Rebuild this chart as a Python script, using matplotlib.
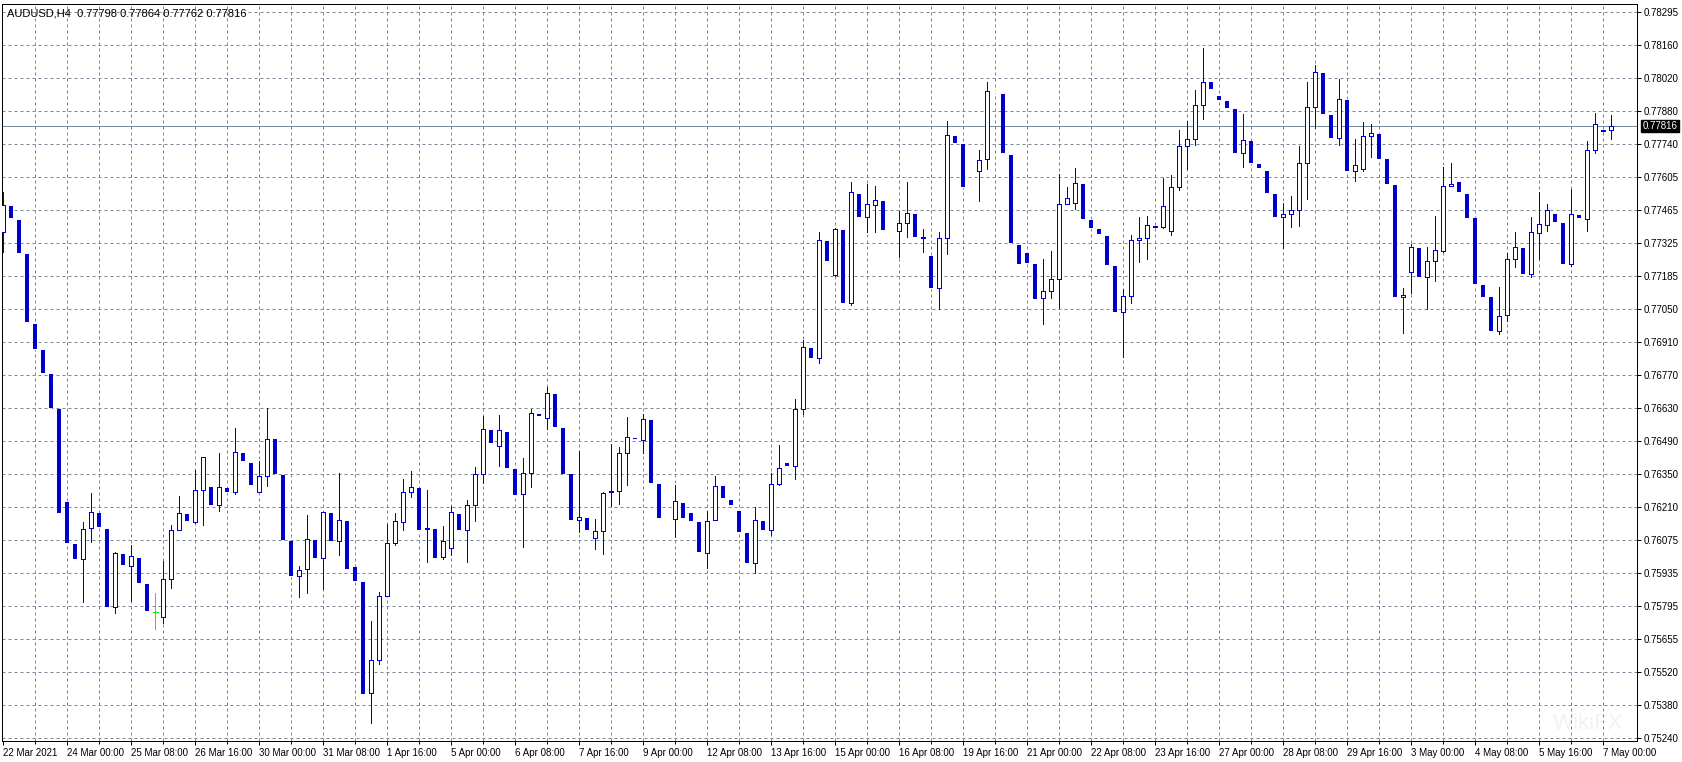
import matplotlib
matplotlib.use("Agg")
import matplotlib.pyplot as plt
import numpy as np

# AUDUSD H4 bars, 22 Mar 16:00 .. 7 May 04:00
opens = [0.77371, 0.77480, 0.77421, 0.77278, 0.76984, 0.76874, 0.76773, 0.76626, 0.76235, 0.76058,
         0.75995, 0.76125, 0.76188, 0.76121, 0.75793, 0.76016, 0.75965, 0.75999, 0.75890, 0.75772,
         0.75751, 0.75911, 0.76117, 0.76184, 0.76150, 0.76285, 0.76298, 0.76222, 0.76293, 0.76277,
         0.76441, 0.76399, 0.76277, 0.76344, 0.76500, 0.76348, 0.76070, 0.75923, 0.75953, 0.76075,
         0.75999, 0.76188, 0.76070, 0.76155, 0.75961, 0.75898, 0.75431, 0.75570, 0.75839, 0.76062,
         0.76150, 0.76277, 0.76293, 0.76121, 0.76121, 0.76003, 0.76041, 0.76184, 0.76117, 0.76222,
         0.76352, 0.76538, 0.76470, 0.76529, 0.76373, 0.76268, 0.76357, 0.76605, 0.76588, 0.76689,
         0.76546, 0.76352, 0.76159, 0.76167, 0.76083, 0.76113, 0.76277, 0.76281, 0.76441, 0.76506,
         0.76495, 0.76580, 0.76310, 0.76166, 0.76163, 0.76230, 0.76188, 0.76150, 0.76020, 0.76159,
         0.76302, 0.76243, 0.76197, 0.76104, 0.75978, 0.76155, 0.76117, 0.76310, 0.76399, 0.76386,
         0.76626, 0.76883, 0.76841, 0.77333, 0.77190, 0.77379, 0.77072, 0.77531, 0.77434, 0.77484,
         0.77501, 0.77378, 0.77375, 0.77409, 0.77446, 0.77345, 0.77270, 0.77135, 0.77345, 0.77775,
         0.77741, 0.77559, 0.77627, 0.77678, 0.77963, 0.77951, 0.77695, 0.77316, 0.77282, 0.77236,
         0.77093, 0.77122, 0.77173, 0.77489, 0.77493, 0.77573, 0.77421, 0.77383, 0.77354, 0.77228,
         0.77034, 0.77101, 0.77337, 0.77345, 0.77393, 0.77392, 0.77375, 0.77560, 0.77733, 0.77762,
         0.77905, 0.78002, 0.77943, 0.77922, 0.77888, 0.77703, 0.77754, 0.77657, 0.77627, 0.77531,
         0.77434, 0.77446, 0.77463, 0.77661, 0.77897, 0.78040, 0.77863, 0.77766, 0.77926, 0.77627,
         0.77636, 0.77775, 0.77783, 0.77678, 0.77569, 0.77097, 0.77202, 0.77303, 0.77181, 0.77249,
         0.77291, 0.77564, 0.77581, 0.77531, 0.77430, 0.77148, 0.77097, 0.76954, 0.77021, 0.77257,
         0.77303, 0.77194, 0.77367, 0.77400, 0.77446, 0.77409, 0.77236, 0.77442, 0.77425, 0.77716,
         0.77797, 0.77798]
highs = [0.77539, 0.77480, 0.77421, 0.77278, 0.76984, 0.76874, 0.76773, 0.76626, 0.76235, 0.76058,
         0.76150, 0.76272, 0.76188, 0.76121, 0.76024, 0.76016, 0.76054, 0.75999, 0.75890, 0.75852,
         0.75986, 0.76138, 0.76260, 0.76184, 0.76369, 0.76424, 0.76298, 0.76441, 0.76293, 0.76546,
         0.76441, 0.76399, 0.76407, 0.76630, 0.76500, 0.76348, 0.76070, 0.75965, 0.76180, 0.76075,
         0.76192, 0.76188, 0.76357, 0.76155, 0.75961, 0.75898, 0.75734, 0.75856, 0.76142, 0.76188,
         0.76331, 0.76365, 0.76293, 0.76285, 0.76121, 0.76134, 0.76218, 0.76184, 0.76243, 0.76382,
         0.76596, 0.76538, 0.76601, 0.76529, 0.76373, 0.76420, 0.76626, 0.76605, 0.76718, 0.76689,
         0.76546, 0.76352, 0.76449, 0.76167, 0.76163, 0.76277, 0.76479, 0.76466, 0.76592, 0.76506,
         0.76605, 0.76580, 0.76310, 0.76166, 0.76306, 0.76230, 0.76188, 0.76150, 0.76197, 0.76344,
         0.76302, 0.76243, 0.76197, 0.76104, 0.76214, 0.76155, 0.76357, 0.76474, 0.76399, 0.76668,
         0.76916, 0.76883, 0.77371, 0.77333, 0.77388, 0.77379, 0.77581, 0.77531, 0.77573, 0.77564,
         0.77501, 0.77378, 0.77459, 0.77581, 0.77446, 0.77383, 0.77270, 0.77371, 0.77838, 0.77775,
         0.77741, 0.77559, 0.77716, 0.78002, 0.77963, 0.77951, 0.77695, 0.77316, 0.77282, 0.77236,
         0.77257, 0.77291, 0.77615, 0.77560, 0.77640, 0.77573, 0.77421, 0.77383, 0.77354, 0.77228,
         0.77131, 0.77358, 0.77434, 0.77438, 0.77396, 0.77598, 0.77611, 0.77800, 0.77838, 0.77968,
         0.78145, 0.78002, 0.77943, 0.77922, 0.77888, 0.77867, 0.77754, 0.77657, 0.77627, 0.77531,
         0.77493, 0.77522, 0.77733, 0.78002, 0.78073, 0.78040, 0.77863, 0.78015, 0.77926, 0.77762,
         0.77834, 0.77825, 0.77783, 0.77678, 0.77569, 0.77135, 0.77320, 0.77303, 0.77308, 0.77438,
         0.77644, 0.77661, 0.77581, 0.77531, 0.77430, 0.77148, 0.77097, 0.77139, 0.77282, 0.77371,
         0.77303, 0.77434, 0.77539, 0.77489, 0.77446, 0.77409, 0.77552, 0.77442, 0.77754, 0.77871,
         0.77800, 0.77864]
lows = [0.77287, 0.77430, 0.77282, 0.76992, 0.76878, 0.76777, 0.76630, 0.76188, 0.76062, 0.75995,
        0.75814, 0.76066, 0.76129, 0.75793, 0.75767, 0.75969, 0.75818, 0.75894, 0.75776, 0.75700,
        0.75725, 0.75873, 0.76117, 0.76155, 0.76146, 0.76138, 0.76222, 0.76197, 0.76277, 0.76268,
        0.76407, 0.76306, 0.76277, 0.76302, 0.76352, 0.76075, 0.75923, 0.75835, 0.75852, 0.75999,
        0.75868, 0.76070, 0.76012, 0.75953, 0.75902, 0.75427, 0.75305, 0.75553, 0.75839, 0.76054,
        0.76117, 0.76256, 0.76117, 0.75982, 0.75999, 0.75995, 0.76012, 0.76117, 0.75982, 0.76155,
        0.76315, 0.76483, 0.76386, 0.76378, 0.76264, 0.76045, 0.76298, 0.76596, 0.76542, 0.76550,
        0.76352, 0.76159, 0.76108, 0.76117, 0.76037, 0.76016, 0.76218, 0.76226, 0.76306, 0.76498,
        0.76441, 0.76315, 0.76167, 0.76164, 0.76087, 0.76167, 0.76155, 0.76024, 0.75957, 0.76159,
        0.76251, 0.76222, 0.76108, 0.75978, 0.75936, 0.76117, 0.76096, 0.76306, 0.76386, 0.76331,
        0.76605, 0.76841, 0.76819, 0.77249, 0.77186, 0.77072, 0.77064, 0.77434, 0.77371, 0.77371,
        0.77379, 0.77376, 0.77266, 0.77350, 0.77350, 0.77287, 0.77135, 0.77047, 0.77278, 0.77745,
        0.77560, 0.77557, 0.77501, 0.77636, 0.77961, 0.77703, 0.77324, 0.77236, 0.77240, 0.77089,
        0.76984, 0.77093, 0.77051, 0.77489, 0.77468, 0.77425, 0.77388, 0.77362, 0.77232, 0.77034,
        0.76845, 0.77072, 0.77244, 0.77257, 0.77392, 0.77388, 0.77358, 0.77547, 0.77636, 0.77737,
        0.77846, 0.77972, 0.77926, 0.77893, 0.77703, 0.77644, 0.77661, 0.77640, 0.77535, 0.77434,
        0.77303, 0.77392, 0.77396, 0.77510, 0.77808, 0.77867, 0.77766, 0.77737, 0.77627, 0.77585,
        0.77627, 0.77686, 0.77678, 0.77573, 0.77097, 0.76946, 0.77114, 0.77181, 0.77047, 0.77165,
        0.77287, 0.77564, 0.77539, 0.77430, 0.77152, 0.77097, 0.76954, 0.76942, 0.76996, 0.77223,
        0.77194, 0.77181, 0.77257, 0.77375, 0.77413, 0.77236, 0.77228, 0.77430, 0.77375, 0.77703,
        0.77796, 0.77762]
closes = [0.77484, 0.77430, 0.77282, 0.76992, 0.76878, 0.76777, 0.76630, 0.76188, 0.76062, 0.75995,
          0.76121, 0.76192, 0.76129, 0.75793, 0.76020, 0.75969, 0.76007, 0.75894, 0.75776, 0.75772,
          0.75911, 0.76117, 0.76188, 0.76155, 0.76285, 0.76424, 0.76222, 0.76298, 0.76277, 0.76445,
          0.76407, 0.76306, 0.76344, 0.76500, 0.76352, 0.76075, 0.75923, 0.75948, 0.76079, 0.75999,
          0.76192, 0.76070, 0.76159, 0.75953, 0.75902, 0.75427, 0.75570, 0.75839, 0.76062, 0.76155,
          0.76277, 0.76298, 0.76117, 0.76125, 0.75999, 0.76070, 0.76192, 0.76117, 0.76222, 0.76352,
          0.76542, 0.76483, 0.76538, 0.76378, 0.76264, 0.76357, 0.76609, 0.76596, 0.76693, 0.76550,
          0.76352, 0.76159, 0.76171, 0.76117, 0.76113, 0.76272, 0.76281, 0.76441, 0.76508, 0.76498,
          0.76584, 0.76315, 0.76167, 0.76164, 0.76239, 0.76167, 0.76155, 0.76024, 0.76155, 0.76302,
          0.76251, 0.76222, 0.76108, 0.75978, 0.76159, 0.76117, 0.76310, 0.76378, 0.76386, 0.76626,
          0.76887, 0.76841, 0.77337, 0.77249, 0.77383, 0.77072, 0.77539, 0.77434, 0.77489, 0.77505,
          0.77379, 0.77376, 0.77409, 0.77451, 0.77350, 0.77350, 0.77135, 0.77345, 0.77779, 0.77745,
          0.77560, 0.77557, 0.77674, 0.77964, 0.77961, 0.77703, 0.77324, 0.77236, 0.77240, 0.77089,
          0.77122, 0.77173, 0.77489, 0.77514, 0.77577, 0.77425, 0.77388, 0.77362, 0.77232, 0.77034,
          0.77101, 0.77337, 0.77345, 0.77400, 0.77395, 0.77480, 0.77560, 0.77733, 0.77762, 0.77905,
          0.78002, 0.77972, 0.77926, 0.77893, 0.77703, 0.77758, 0.77661, 0.77640, 0.77535, 0.77434,
          0.77446, 0.77463, 0.77661, 0.77897, 0.78044, 0.77867, 0.77766, 0.77930, 0.77627, 0.77653,
          0.77775, 0.77787, 0.77678, 0.77573, 0.77097, 0.77106, 0.77308, 0.77181, 0.77249, 0.77295,
          0.77564, 0.77573, 0.77539, 0.77430, 0.77152, 0.77097, 0.76954, 0.77017, 0.77257, 0.77308,
          0.77194, 0.77371, 0.77404, 0.77463, 0.77413, 0.77236, 0.77446, 0.77430, 0.77716, 0.77825,
          0.77799, 0.77816]

# one time label every 8 bars
time_labels = ["22 Mar 2021", "24 Mar 00:00", "25 Mar 08:00", "26 Mar 16:00", "30 Mar 00:00",
               "31 Mar 08:00", "1 Apr 16:00", "5 Apr 00:00", "6 Apr 08:00", "7 Apr 16:00",
               "9 Apr 00:00", "12 Apr 08:00", "13 Apr 16:00", "15 Apr 00:00", "16 Apr 08:00",
               "19 Apr 16:00", "21 Apr 00:00", "22 Apr 08:00", "23 Apr 16:00", "27 Apr 00:00",
               "28 Apr 08:00", "29 Apr 16:00", "3 May 00:00", "4 May 08:00", "5 May 16:00",
               "7 May 00:00"]
price_labels = ["0.78295", "0.78160", "0.78020", "0.77880", "0.77740", "0.77605", "0.77465",
                "0.77325", "0.77185", "0.77050", "0.76910", "0.76770", "0.76630", "0.76490",
                "0.76350", "0.76210", "0.76075", "0.75935", "0.75795", "0.75655", "0.75520",
                "0.75380", "0.75240"]

BLUE = "#0000cd"
GRID = "#778899"
PX = 0.72  # one pixel in points at dpi 100

fig = plt.figure(figsize=(16.83, 7.62), dpi=100)
ax = fig.add_axes([2 / 1683, 21 / 762, 1635 / 1683, 737 / 762])
ax.set_facecolor("white")

n = len(opens)
x = np.arange(n)
o = np.array(opens); h = np.array(highs); l = np.array(lows); c = np.array(closes)

# price scale: labels are rounded values of an even grid
top = float(price_labels[0])
step = (float(price_labels[0]) - float(price_labels[-1])) / (len(price_labels) - 1)
price_ticks = [top - i * step for i in range(len(price_labels))]
ax.set_ylim(0.75229, 0.78330)
ax.set_xlim(-0.16, 204.2)

# dashed grid
for p in price_ticks:
    ax.axhline(p, color=GRID, lw=PX, dashes=(3, 3), zorder=0.5)
for k in range(4, n, 4):
    ax.axvline(k, color=GRID, lw=PX, dashes=(3, 3), zorder=0.5)

# last price line
ax.axhline(closes[-1], color=GRID, lw=PX, zorder=0.6)

one_px = step / 33.0
bull = c > o
bear = c < o
doji = c == o

# bull candles: blue wick, white body with blue outline
ax.vlines(x[bull], l[bull], h[bull], color=BLUE, lw=PX, zorder=2, antialiased=False)
ax.bar(x[bull], c[bull] - o[bull], bottom=o[bull], width=0.5, facecolor="white",
       edgecolor=BLUE, linewidth=PX, zorder=3, antialiased=False)

# bear candles: MT4 draws the down outline/wick in white, only the fill shows
ax.vlines(x[bear], l[bear], h[bear], color="white", lw=PX, zorder=2, antialiased=False)
vis = bear & ((o - c) > 1.2 * one_px)
ax.bar(x[vis], o[vis] - c[vis], bottom=c[vis], width=0.5, color=BLUE,
       linewidth=0, zorder=3, antialiased=False)

# exact doji in line-graph colour
ax.vlines(x[doji], l[doji], h[doji], color="#00ff00", lw=PX, zorder=3, antialiased=False)
ax.hlines(c[doji], x[doji] - 0.3, x[doji] + 0.3, color="#00ff00", lw=PX, zorder=3, antialiased=False)

# axes look
for s in ax.spines.values():
    s.set_color("black")
    s.set_linewidth(PX)
ax.yaxis.tick_right()
ax.set_yticks(price_ticks)
ax.set_yticklabels(price_labels)
ax.set_xticks(range(0, 8 * len(time_labels), 8))
ax.set_xticklabels(time_labels, ha="left")
ax.set_xticks(range(4, n, 8), minor=True)
ax.tick_params(axis="y", length=3, width=PX, pad=2, labelsize=7, colors="black")
ax.tick_params(axis="x", which="major", length=3, width=PX, pad=2, labelsize=7, colors="black")
ax.tick_params(axis="x", which="minor", length=2, width=PX)
for t in ax.get_xticklabels() + ax.get_yticklabels():
    t.set_fontfamily("Liberation Sans")

# current price tag on the scale
ax.annotate(f"{closes[-1]:.5f}", xy=(1, closes[-1]), xycoords=("axes fraction", "data"),
            xytext=(4, 0), textcoords="offset points", va="center", ha="left",
            color="white", fontsize=7, family="Liberation Sans",
            bbox=dict(boxstyle="square,pad=0.12", fc="black", ec="black"))

# symbol header
header = f"AUDUSD,H4  {opens[-1]:.5f} {highs[-1]:.5f} {lows[-1]:.5f} {closes[-1]:.5f}"
fig.text(7 / 1683, 1 - 14 / 762, header, fontsize=8, family="Liberation Sans",
         va="center", ha="left", color="black")

# faint watermark
ax.text(0.992, 0.01, "WikiFX", transform=ax.transAxes, ha="right", va="bottom",
        fontsize=16, color="#f2f2f2", zorder=0.4, family="Liberation Sans")

fig.savefig("out.png", dpi=100, facecolor="white")
